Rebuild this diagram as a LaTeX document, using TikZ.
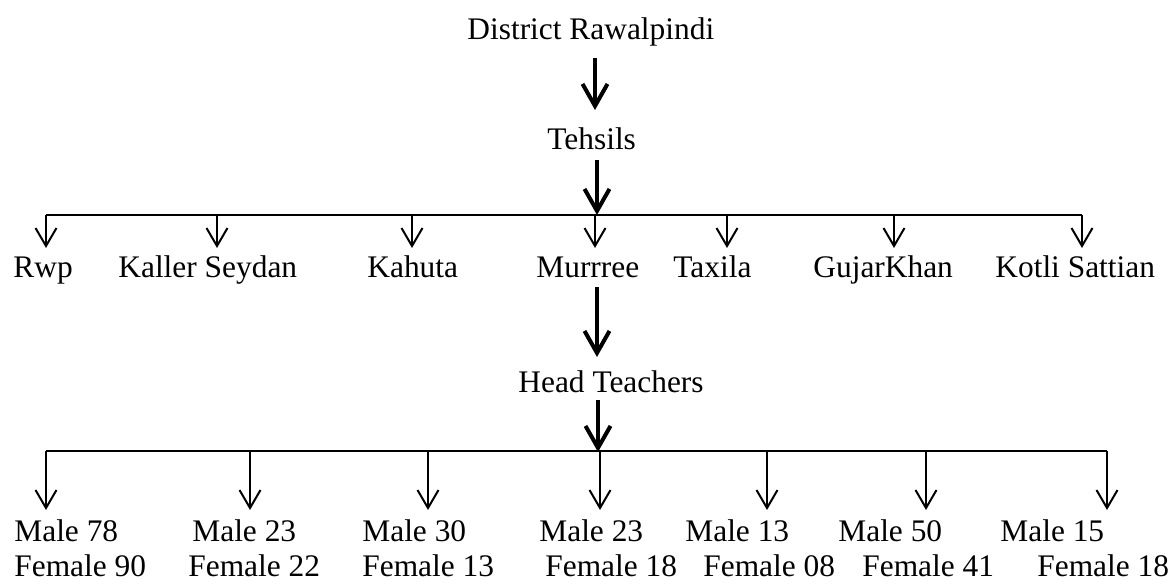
\documentclass[tikz,border=0pt]{standalone}
\usepackage{fontspec}
\setmainfont{Liberation Serif}
\usetikzlibrary{arrows.meta}
\begin{document}
\begin{tikzpicture}[x=0.5pt, y=-0.5pt,
    lbl/.style = {font=\fontsize{15.7}{19}\selectfont, inner sep=0pt, anchor=base west},
    bigarrow/.style = {-{Straight Barb[length=11pt,width=12.5pt]}, line width=2pt},
    smallarrow/.style = {-{Straight Barb[length=9pt,width=10.5pt]}, line width=1pt},
    bar/.style = {line width=1pt}]
    \useasboundingbox (0,0) rectangle (1172,581);
    % upper levels
    \node[lbl] (dist) at (467,40) {District Rawalpindi};
    \node[lbl] (teh) at (547,150) {Tehsils};
    \node[lbl] (rwp) at (13,278) {Rwp};
    \node[lbl] (kal) at (118,278) {Kaller Seydan};
    \node[lbl] (kah) at (367,278) {Kahuta};
    \node[lbl] (mur) at (536,278) {Murrree};
    \node[lbl] (tax) at (673,278) {Taxila};
    \node[lbl] (guj) at (813,278) {GujarKhan};
    \node[lbl] (kot) at (995,278) {Kotli Sattian};
    \node[lbl] (head) at (518,393) {Head Teachers};
    % head teachers per tehsil
    \node[lbl] (m1) at (14,542) {Male 78};
    \node[lbl] (f1) at (14,577) {Female 90};
    \node[lbl] (m2) at (192,542) {Male 23};
    \node[lbl] (f2) at (188,577) {Female 22};
    \node[lbl] (m3) at (362,542) {Male 30};
    \node[lbl] (f3) at (362,577) {Female 13};
    \node[lbl] (m4) at (539,542) {Male 23};
    \node[lbl] (f4) at (545,577) {Female 18};
    \node[lbl] (m5) at (685,542) {Male 13};
    \node[lbl] (f5) at (703,577) {Female 08};
    \node[lbl] (m6) at (838,542) {Male 50};
    \node[lbl] (f6) at (862,577) {Female 41};
    \node[lbl] (m7) at (1000,542) {Male 15};
    \node[lbl] (f7) at (1037,577) {Female 18};
    % thick arrows down the middle
    \coordinate (d1) at (595,58);  \coordinate (d2) at (595,110);
    \coordinate (d3) at (597,160); \coordinate (d4) at (597,215);
    \coordinate (d5) at (597,287); \coordinate (d6) at (597,357);
    \coordinate (d7) at (598,400); \coordinate (d8) at (598,452);
    \draw[bigarrow] (d1) -- (d2);
    \draw[bigarrow] (d3) -- (d4);
    \draw[bigarrow] (d5) -- (d6);
    \draw[bigarrow] (d7) -- (d8);
    % tehsil bar
    \foreach \x [count=\i] in {46,217,412,595,727,894,1082} {
        \coordinate (tt\i) at (\x,215);
        \coordinate (th\i) at (\x,248);
        \draw[smallarrow] (tt\i) -- (th\i);
    }
    \draw[bar] (tt1) -- (tt7);
    % head teachers bar
    \foreach \x [count=\i] in {46,250,428,600,767,926,1107} {
        \coordinate (bt\i) at (\x,451);
        \coordinate (bh\i) at (\x,510);
        \draw[smallarrow] (bt\i) -- (bh\i);
    }
    \draw[bar] (bt1) -- (bt7);
\end{tikzpicture}
\end{document}
